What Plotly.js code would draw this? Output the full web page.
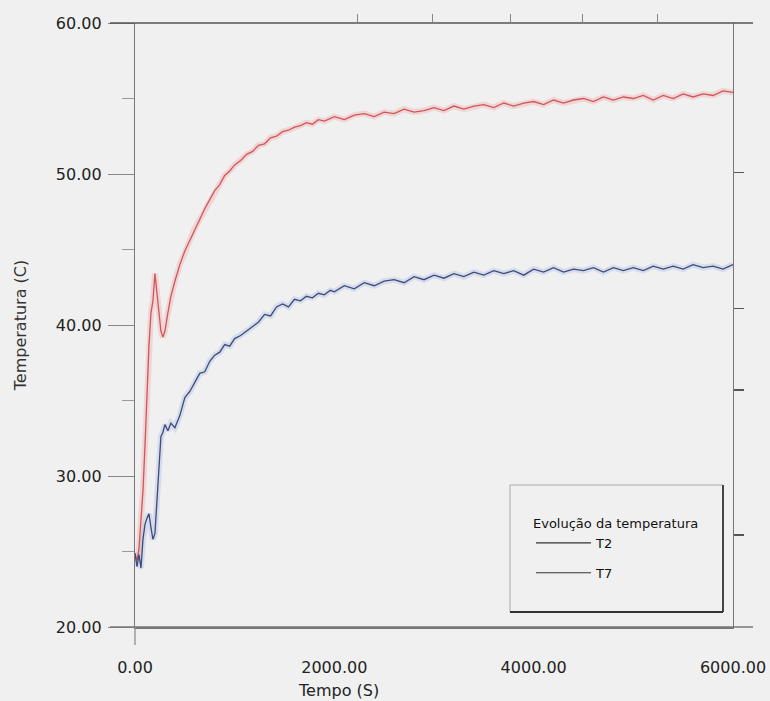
<!DOCTYPE html>
<html>
<head>
<meta charset="utf-8">
<script src="https://cdn.plot.ly/plotly-3.0.1.min.js"></script>
<style>html,body{margin:0;padding:0;background:#f0f0f0;}#chart{width:770px;height:701px;}</style>
</head>
<body>
<div id="chart"></div>
<script>
// ---- data ----
const t2Time = [0,20,40,60,80,100,120,140,160,180,200,220,240,260,280,300,330,360,400,450,500,550,600,650,700,750,800,850,900,950,1000,1060,1120,1180,1240,1300,1360,1420,1480,1540,1600,1660,1720,1780,1840,1900,1960,
  2000,2100,2200,2300,2400,2500,2600,2700,2800,2900,3000,3100,3200,3300,3400,3500,3600,3700,3800,3900,4000,4100,4200,4300,4400,4500,4600,4700,4800,4900,5000,5100,5200,5300,5400,5500,5600,5700,5800,5900,6000];
const t2Temp = [24.8,24.4,25.2,26.8,29.0,32.0,35.5,38.6,40.8,41.6,43.4,42.2,40.6,39.6,39.2,39.6,40.8,41.9,42.9,44.0,44.9,45.6,46.4,47.0,47.7,48.3,48.9,49.3,49.9,50.2,50.6,50.9,51.3,51.5,51.9,52.0,52.4,52.5,52.8,52.9,53.1,53.2,53.4,53.3,53.6,53.5,53.7,
  53.8,53.6,53.9,54.0,53.8,54.1,54.0,54.3,54.1,54.2,54.4,54.2,54.5,54.3,54.5,54.6,54.4,54.7,54.5,54.7,54.8,54.6,54.9,54.7,54.9,55.0,54.8,55.1,54.9,55.1,55.0,55.2,54.9,55.2,55.0,55.3,55.1,55.3,55.2,55.5,55.4];

const t7Time = [0,20,40,60,80,100,120,140,160,180,200,220,240,260,280,300,330,360,400,450,500,550,600,650,700,750,800,850,900,950,1000,1060,1120,1180,1240,1300,1360,1420,1480,1540,1600,1660,1720,1780,1840,1900,1960,
  2000,2100,2200,2300,2400,2500,2600,2700,2800,2900,3000,3100,3200,3300,3400,3500,3600,3700,3800,3900,4000,4100,4200,4300,4400,4500,4600,4700,4800,4900,5000,5100,5200,5300,5400,5500,5600,5700,5800,5900,6000];
const t7Temp = [24.9,24.0,24.8,23.9,25.8,26.8,27.2,27.5,26.6,25.8,26.2,28.5,31.0,32.6,32.9,33.4,33.0,33.5,33.2,34.0,35.2,35.6,36.2,36.8,36.9,37.6,38.0,38.2,38.7,38.6,39.1,39.3,39.6,39.9,40.2,40.7,40.6,41.2,41.4,41.2,41.7,41.6,41.9,41.8,42.1,42.0,42.3,
  42.2,42.6,42.4,42.8,42.6,42.9,43.0,42.8,43.2,43.0,43.3,43.1,43.4,43.2,43.5,43.3,43.6,43.4,43.6,43.3,43.7,43.5,43.8,43.5,43.7,43.6,43.8,43.5,43.8,43.6,43.8,43.6,43.9,43.7,43.9,43.7,44.0,43.8,43.9,43.7,44.0];

const xTicks = [0,2000,4000,6000];
const yTicks = [20,30,40,50,60];
const topTicks = [2234,2986,3767,4489,5240];
const rightTicks = [26.1,35.7,41.1,50.1];
const seriesNames = ['T2','T7'];
const legendTitle = 'Evolução da temperatura';
const xTitle = 'Tempo (S)';
const yTitle = 'Temperatura (C)';

const FONT = 'DejaVu Sans, Liberation Sans, Arial, sans-serif';

const traces = [
  {x:t2Time, y:t2Temp, mode:'lines', line:{color:'rgba(235,120,120,0.22)', width:6}, showlegend:false, hoverinfo:'skip'},
  {x:t7Time, y:t7Temp, mode:'lines', line:{color:'rgba(120,150,220,0.22)', width:6}, showlegend:false, hoverinfo:'skip'},
  {x:t2Time, y:t2Temp, mode:'lines', name:seriesNames[0], line:{color:'#d25558', width:1.3}, showlegend:false},
  {x:t7Time, y:t7Temp, mode:'lines', name:seriesNames[1], line:{color:'#3f4a78', width:1.3}, showlegend:false},
  // legend entries
  {x:[null], y:[null], mode:'lines', name:seriesNames[0], line:{color:'#333', width:1.2}, xaxis:'x2', yaxis:'y', legendgroup:'a'},
  {x:[null], y:[null], mode:'lines', name:seriesNames[1], line:{color:'#333', width:1.2}, xaxis:'x', yaxis:'y2', legendgroup:'b'}
];

// plot area: x 135..733, y 23..627
const px = v => (v-135)/598;
const py = v => (627-v)/604;

const layout = {
  width:770, height:701,
  margin:{l:135, r:37, t:23, b:74},
  paper_bgcolor:'#f0f0f0', plot_bgcolor:'#f0f0f0',
  font:{family:FONT, size:16, color:'#222'},
  showlegend:true,
  xaxis:{range:[0,6000], tickvals:xTicks, tickformat:'.2f', ticks:'', showline:true, linecolor:'#777', linewidth:1.5,
         showgrid:false, zeroline:false, ticklabelstandoff:25, tickfont:{size:16, color:'#222'}},
  yaxis:{range:[20,60], tickvals:yTicks, tickformat:'.2f', ticks:'outside', ticklen:26, tickcolor:'#888', tickwidth:1,
         minor:{tickvals:[25,35,45,55], ticks:'outside', ticklen:12, tickcolor:'#999'},
         showline:true, linecolor:'#777', linewidth:1.2, showgrid:false, zeroline:false, ticklabelstandoff:3,
         tickfont:{size:16, color:'#222'},
         title:{text:yTitle, font:{size:16, color:'#333'}, standoff:25}},
  xaxis2:{range:[0,6000], overlaying:'x', side:'top', anchor:'y', tickvals:topTicks, ticks:'outside', ticklen:8, tickcolor:'#888',
          showticklabels:false, showline:false, showgrid:false, zeroline:false},
  yaxis2:{range:[20,60], overlaying:'y', side:'right', anchor:'x', tickvals:rightTicks, ticks:'outside', ticklen:10, tickcolor:'#555', tickwidth:1.5,
          showticklabels:false, showline:true, linecolor:'#777', linewidth:1.2, showgrid:false, zeroline:false},
  legend:{x:px(531), y:py(511), xanchor:'left', yanchor:'top', bgcolor:'rgba(0,0,0,0)', borderwidth:0,
          traceorder:'grouped', tracegroupgap:10, itemwidth:55,
          title:{text:legendTitle, font:{size:13, color:'#111'}},
          font:{size:13, color:'#111'}},
  annotations:[
    {text:xTitle, xref:'paper', yref:'paper', x:px(338), y:py(690), xanchor:'center', yanchor:'middle', showarrow:false,
     font:{size:16, color:'#222'}}
  ],
  shapes:[
    {type:'line', xref:'paper', yref:'paper', x0:px(110), x1:px(753), y0:1, y1:1, line:{color:'#555', width:1.5}},
    {type:'line', xref:'paper', yref:'paper', x0:px(110), x1:px(753), y0:0, y1:0, line:{color:'#777', width:1.5}},
    {type:'line', xref:'paper', yref:'paper', x0:0, x1:0, y0:py(645), y1:0, line:{color:'#888', width:1.2}},
    // legend box
    {type:'line', xref:'paper', yref:'paper', x0:px(510), x1:px(723), y0:py(485), y1:py(485), line:{color:'#aaa', width:1}},
    {type:'line', xref:'paper', yref:'paper', x0:px(510), x1:px(510), y0:py(485), y1:py(612), line:{color:'#aaa', width:1}},
    {type:'line', xref:'paper', yref:'paper', x0:px(723), x1:px(723), y0:py(485), y1:py(612), line:{color:'#444', width:2}},
    {type:'line', xref:'paper', yref:'paper', x0:px(510), x1:px(723), y0:py(612), y1:py(612), line:{color:'#333', width:2}}
  ]
};

Plotly.newPlot('chart', traces, layout, {displayModeBar:false, staticPlot:true});
</script>
</body>
</html>
